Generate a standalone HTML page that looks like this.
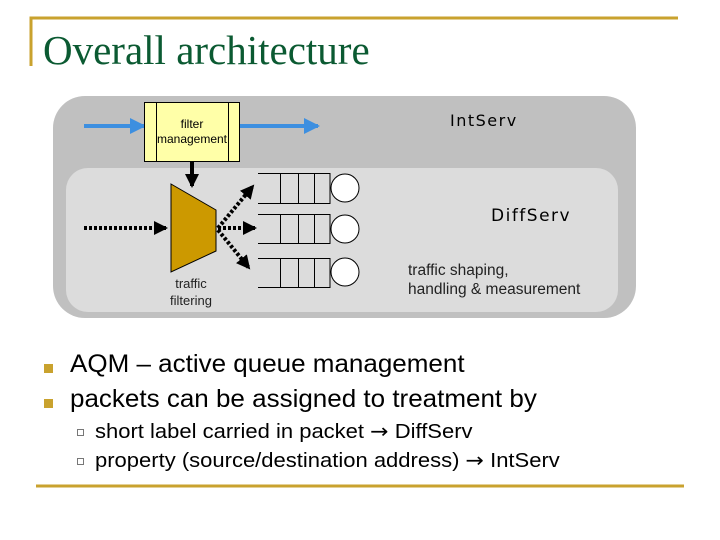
<!DOCTYPE html>
<html><head><style>
body{margin:0;width:720px;height:540px;background:#fff;overflow:hidden;position:relative;font-family:"Liberation Sans",sans-serif}
.t{position:absolute;white-space:nowrap;transform-origin:0 0}
</style></head><body>
<svg width="720" height="540" style="position:absolute;left:0;top:0">
<defs>
<marker id="ab" markerWidth="4" markerHeight="4" refX="3.5" refY="2" orient="auto" markerUnits="strokeWidth"><path d="M0,0 L4,2 L0,4z" fill="#3d8fe0"/></marker>
<marker id="ak" markerWidth="3.5" markerHeight="3.5" refX="3" refY="1.75" orient="auto" markerUnits="strokeWidth"><path d="M0,0 L3.5,1.75 L0,3.5z" fill="#000"/></marker>
</defs>
<path d="M31,66 V18 H678" fill="none" stroke="#c9a22e" stroke-width="3"/>
<line x1="36" y1="486" x2="684" y2="486" stroke="#c9a22e" stroke-width="3"/>
<rect x="53" y="96" width="583" height="222" rx="32" fill="#c0c0c0"/>
<rect x="66" y="168" width="552" height="144" rx="22" fill="#dcdcdc"/>
<line x1="84" y1="126" x2="144" y2="126" stroke="#3d8fe0" stroke-width="4" marker-end="url(#ab)"/>
<line x1="240" y1="126" x2="318" y2="126" stroke="#3d8fe0" stroke-width="4" marker-end="url(#ab)"/>
<rect x="144.5" y="102.5" width="95" height="59" fill="#ffffa8" stroke="#000"/>
<line x1="156.5" y1="102" x2="156.5" y2="162" stroke="#000"/>
<line x1="228.5" y1="102" x2="228.5" y2="162" stroke="#000"/>
<line x1="192" y1="162" x2="192" y2="186" stroke="#000" stroke-width="4" marker-end="url(#ak)"/>
<polygon points="171,184 216,210 216,251 171,272" fill="#cc9900" stroke="#000"/>
<g stroke="#000" stroke-width="4" stroke-dasharray="3,2" fill="none">
<line x1="84" y1="228" x2="166" y2="228" marker-end="url(#ak)"/>
<line x1="218" y1="228" x2="253" y2="186" marker-end="url(#ak)"/>
<line x1="218" y1="228" x2="255" y2="228" marker-end="url(#ak)"/>
<line x1="218" y1="230" x2="249" y2="268" marker-end="url(#ak)"/>
</g>
<g stroke="#000" fill="none" stroke-width="1">
<path d="M258,173.5 H330 V203.5 H258 M280.5,173 V203 M298.5,173 V203 M314.5,173 V203"/>
<circle cx="345" cy="188" r="14" fill="#fff"/>
<path d="M258,214.5 H330 V243.5 H258 M280.5,214 V243 M298.5,214 V243 M314.5,214 V243"/>
<circle cx="345" cy="229" r="14" fill="#fff"/>
<path d="M258,258.5 H330 V287.5 H258 M280.5,258 V287 M298.5,258 V287 M314.5,258 V287"/>
<circle cx="345" cy="272" r="14" fill="#fff"/>
</g>
<rect x="44" y="364" width="9" height="9" fill="#c9a22e"/>
<rect x="44" y="399" width="9" height="9" fill="#c9a22e"/>
<rect x="77.5" y="429.5" width="6" height="6" fill="none" stroke="#777"/>
<rect x="77.5" y="458.5" width="6" height="6" fill="none" stroke="#777"/>
</svg>
<div class="t" style="left:43px;top:26px;font:41px 'Liberation Serif',serif;color:#0b5a32">Overall architecture</div>
<div class="t" style="left:150px;top:117px;width:84px;text-align:center;font-size:12px;line-height:15px">filter<br>management</div>
<div class="t" style="left:450px;top:111px;font-size:16px;letter-spacing:1.5px;font-family:'DejaVu Sans',sans-serif">IntServ</div>
<div class="t" style="left:491px;top:206px;font-size:17px;letter-spacing:1.5px;font-family:'DejaVu Sans',sans-serif">DiffServ</div>
<div class="t" style="left:160px;top:275px;width:62px;text-align:center;font-size:13px;line-height:17px;color:#222">traffic<br>filtering</div>
<div class="t" style="left:408px;top:261px;font-size:15.5px;line-height:19px;color:#222">traffic shaping,<br>handling &amp; measurement</div>
<div class="t" style="left:70px;top:350px;font-size:25px;transform:scaleX(1.04)">AQM – active queue management</div>
<div class="t" style="left:70px;top:385px;font-size:25px;transform:scaleX(1.04)">packets can be assigned to treatment by</div>
<div class="t" style="left:95px;top:419px;font-size:20px;transform:scaleX(1.1)">short label carried in packet <span style="font-family:'DejaVu Sans'">→</span> DiffServ</div>
<div class="t" style="left:95px;top:448px;font-size:20px;transform:scaleX(1.1)">property (source/destination address) <span style="font-family:'DejaVu Sans'">→</span> IntServ</div>
</body></html>
